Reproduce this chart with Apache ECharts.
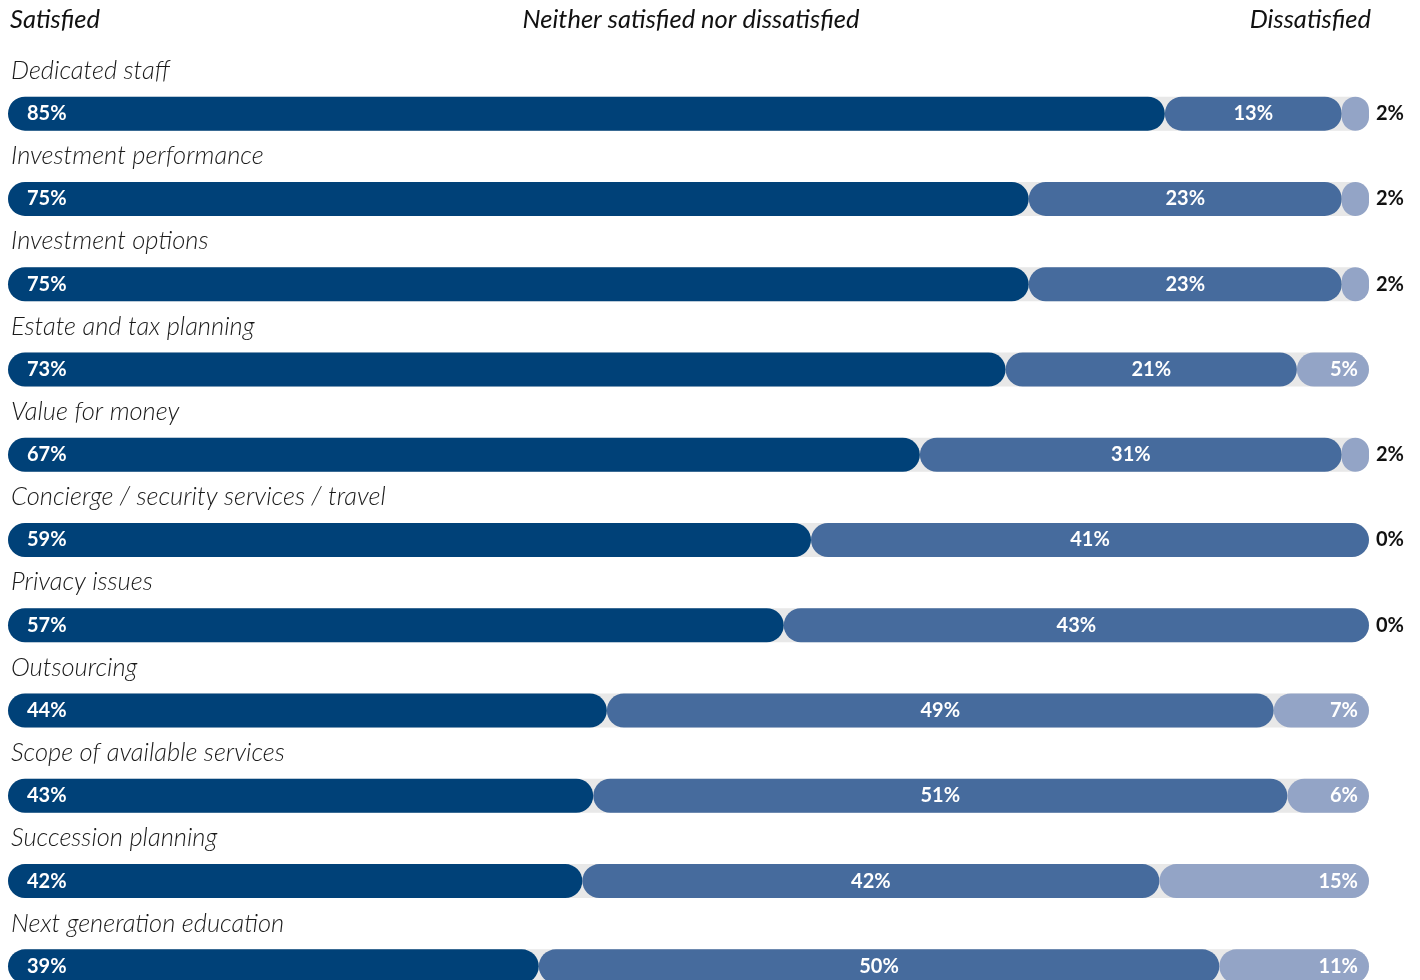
<!DOCTYPE html>
<html><head><meta charset="utf-8">
<script src="https://cdn.jsdelivr.net/npm/echarts@6/dist/echarts.min.js"></script>
<style>html,body{margin:0;padding:0;background:#fff;overflow:hidden}#c{width:1420px;height:1010px}</style>
</head><body><div id="c"></div>
<script>
const categories = ["Dedicated staff","Investment performance","Investment options","Estate and tax planning","Value for money","Concierge / security services / travel","Privacy issues","Outsourcing","Scope of available services","Succession planning","Next generation education"];
const satisfied = [85,75,75,73.3,67,59,57,44,43,42.2,39];
const neither = [13,23,23,21.4,31,41,43,49,51,42.4,50];
const dissatisfied = [2,2,2,5.3,2,0,0,7,6,15.4,11];
const headers = ["Satisfied","Neither satisfied nor dissatisfied","Dissatisfied"];
const total = 100;

const chart = echarts.init(document.getElementById('c'), null, {renderer:'canvas'});
const R = 17;
const fmt = p => Math.round(p.value) + '%';
const valFont = {fontFamily:'Lato', fontWeight:'bold', fontSize:20, color:'#fff'};
const headFont = {fontFamily:'Lato', fontStyle:'italic', fontWeight:'normal', fontSize:25.5, color:'#111'};

chart.setOption({
  animation:false,
  title:[
    {text:headers[0], left:5, top:2, textStyle:headFont},
    {text:headers[1], left:686, textAlign:'center', top:2, textStyle:headFont},
    {text:headers[2], right:44, top:2, textStyle:headFont}
  ],
  grid:{left:8, right:51, top:71, height:938, containLabel:false},
  xAxis:{type:'value', min:0, max:100, show:false},
  yAxis:{type:'category', inverse:true, data:categories, show:false},
  series:[
    {type:'bar', barWidth:34, barGap:'-100%', silent:true,
     data:categories.map(() => total),
     itemStyle:{color:'#e8e8e8', borderRadius:R},
     label:{show:true, position:[3,-26], verticalAlign:'middle', align:'left',
       formatter:p => p.name, fontFamily:'Lato', fontStyle:'italic', fontWeight:300, fontSize:25.5, color:'#1a1a1a'}},
    {type:'bar', stack:'s', barWidth:34, barGap:'-100%', data:satisfied,
     itemStyle:{color:'#004178', borderRadius:R},
     label:Object.assign({show:true, position:'insideLeft', distance:19, formatter:fmt}, valFont)},
    {type:'bar', stack:'s', barWidth:34, barGap:'-100%', data:neither,
     itemStyle:{color:'#466b9d', borderRadius:R},
     label:Object.assign({show:true, position:'inside', formatter:fmt}, valFont)},
    {type:'bar', stack:'s', barWidth:34, barGap:'-100%',
     data:dissatisfied.map(v => v <= 2 ? {value:v, label:{position:'right', distance:7, color:'#111'}} : {value:v}),
     itemStyle:{color:'#93a4c6', borderRadius:R},
     label:Object.assign({show:true, position:'insideRight', distance:11, formatter:fmt}, valFont)}
  ]
});
</script></body></html>
